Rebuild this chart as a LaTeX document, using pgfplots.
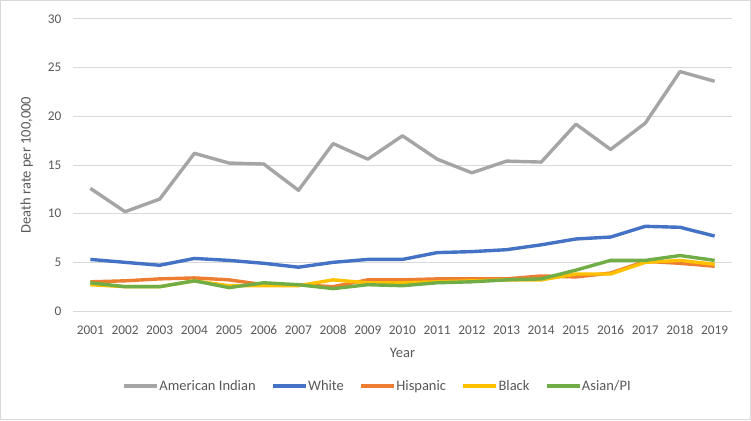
\documentclass[border=0pt]{standalone}
\usepackage{pgfplots}
\pgfplotsset{compat=1.18}
\usepackage{fontspec}
\setmainfont{Carlito}
\definecolor{cGray}{HTML}{A5A5A5}
\definecolor{cBlue}{HTML}{4472C4}
\definecolor{cOrange}{HTML}{ED7D31}
\definecolor{cYellow}{HTML}{FFC000}
\definecolor{cGreen}{HTML}{70AD47}
\definecolor{cGrid}{HTML}{D9D9D9}
\definecolor{cText}{HTML}{595959}
\begin{document}
\begin{tikzpicture}[x=1bp,y=1bp]
\draw[cGrid, line width=1bp] (0.5,0.5) rectangle (750.5,419.5);
\begin{axis}[
  at={(73bp,109bp)}, anchor=south west,
  scale only axis, width=659bp, height=292bp,
  xmin=2000.5, xmax=2019.5, ymin=0, ymax=30,
  xtick={2001,...,2019}, ytick={0,5,...,30},
  axis line style={draw=none},
  major tick length=0pt,
  ymajorgrids, grid style={cGrid, line width=1bp},
  font=\fontsize{14.5bp}{17bp}\selectfont,
  tick label style={font=\fontsize{13.3bp}{16bp}\selectfont, text=cText},
  yticklabel style={xshift=-8bp},
  xticklabel style={/pgf/number format/1000 sep=, yshift=-11bp},
  /pgf/number format/assume math mode=true,
  xlabel={Year}, ylabel={Death rate per 100,000},
  xlabel style={at={(axis description cs:0.5,-0.144)}, anchor=center, text=cText},
  ylabel style={at={(axis description cs:-0.070,0.5)}, anchor=center, rotate=0, text=cText},
  legend columns=5,
  legend style={draw=none, at={(0.461,-0.257)}, anchor=center, font=\fontsize{14.5bp}{17bp}\selectfont, text=cText,
    nodes={inner xsep=0.5bp},
    /tikz/every even column/.append style={column sep=15bp}},
  legend image code/.code={\draw[#1, line width=3.5bp] (0bp,0bp) -- (33bp,0bp);},
  every axis plot/.append style={line width=3.4bp, line join=round, no markers},
]
\addplot[cGray] coordinates {(2001,12.6)(2002,10.2)(2003,11.5)(2004,16.2)(2005,15.2)(2006,15.1)(2007,12.4)(2008,17.2)(2009,15.6)(2010,18.0)(2011,15.6)(2012,14.2)(2013,15.4)(2014,15.3)(2015,19.2)(2016,16.6)(2017,19.3)(2018,24.6)(2019,23.6)};
\addlegendentry{American Indian}
\addplot[cBlue] coordinates {(2001,5.3)(2002,5.0)(2003,4.7)(2004,5.4)(2005,5.2)(2006,4.9)(2007,4.5)(2008,5.0)(2009,5.3)(2010,5.3)(2011,6.0)(2012,6.1)(2013,6.3)(2014,6.8)(2015,7.4)(2016,7.6)(2017,8.7)(2018,8.6)(2019,7.7)};
\addlegendentry{White}
\addplot[cOrange] coordinates {(2001,3.0)(2002,3.1)(2003,3.3)(2004,3.4)(2005,3.2)(2006,2.7)(2007,2.7)(2008,2.5)(2009,3.2)(2010,3.2)(2011,3.3)(2012,3.3)(2013,3.3)(2014,3.6)(2015,3.5)(2016,3.9)(2017,5.1)(2018,4.9)(2019,4.6)};
\addlegendentry{Hispanic}
\addplot[cYellow] coordinates {(2001,2.7)(2002,2.5)(2003,2.5)(2004,3.1)(2005,2.6)(2006,2.6)(2007,2.6)(2008,3.2)(2009,2.9)(2010,2.9)(2011,3.0)(2012,3.1)(2013,3.2)(2014,3.2)(2015,3.8)(2016,3.8)(2017,5.0)(2018,5.2)(2019,4.8)};
\addlegendentry{Black}
\addplot[cGreen] coordinates {(2001,2.9)(2002,2.5)(2003,2.5)(2004,3.1)(2005,2.4)(2006,2.9)(2007,2.7)(2008,2.3)(2009,2.7)(2010,2.6)(2011,2.9)(2012,3.0)(2013,3.2)(2014,3.3)(2015,4.2)(2016,5.2)(2017,5.2)(2018,5.7)(2019,5.2)};
\addlegendentry{Asian/PI}
\end{axis}
\end{tikzpicture}
\end{document}
